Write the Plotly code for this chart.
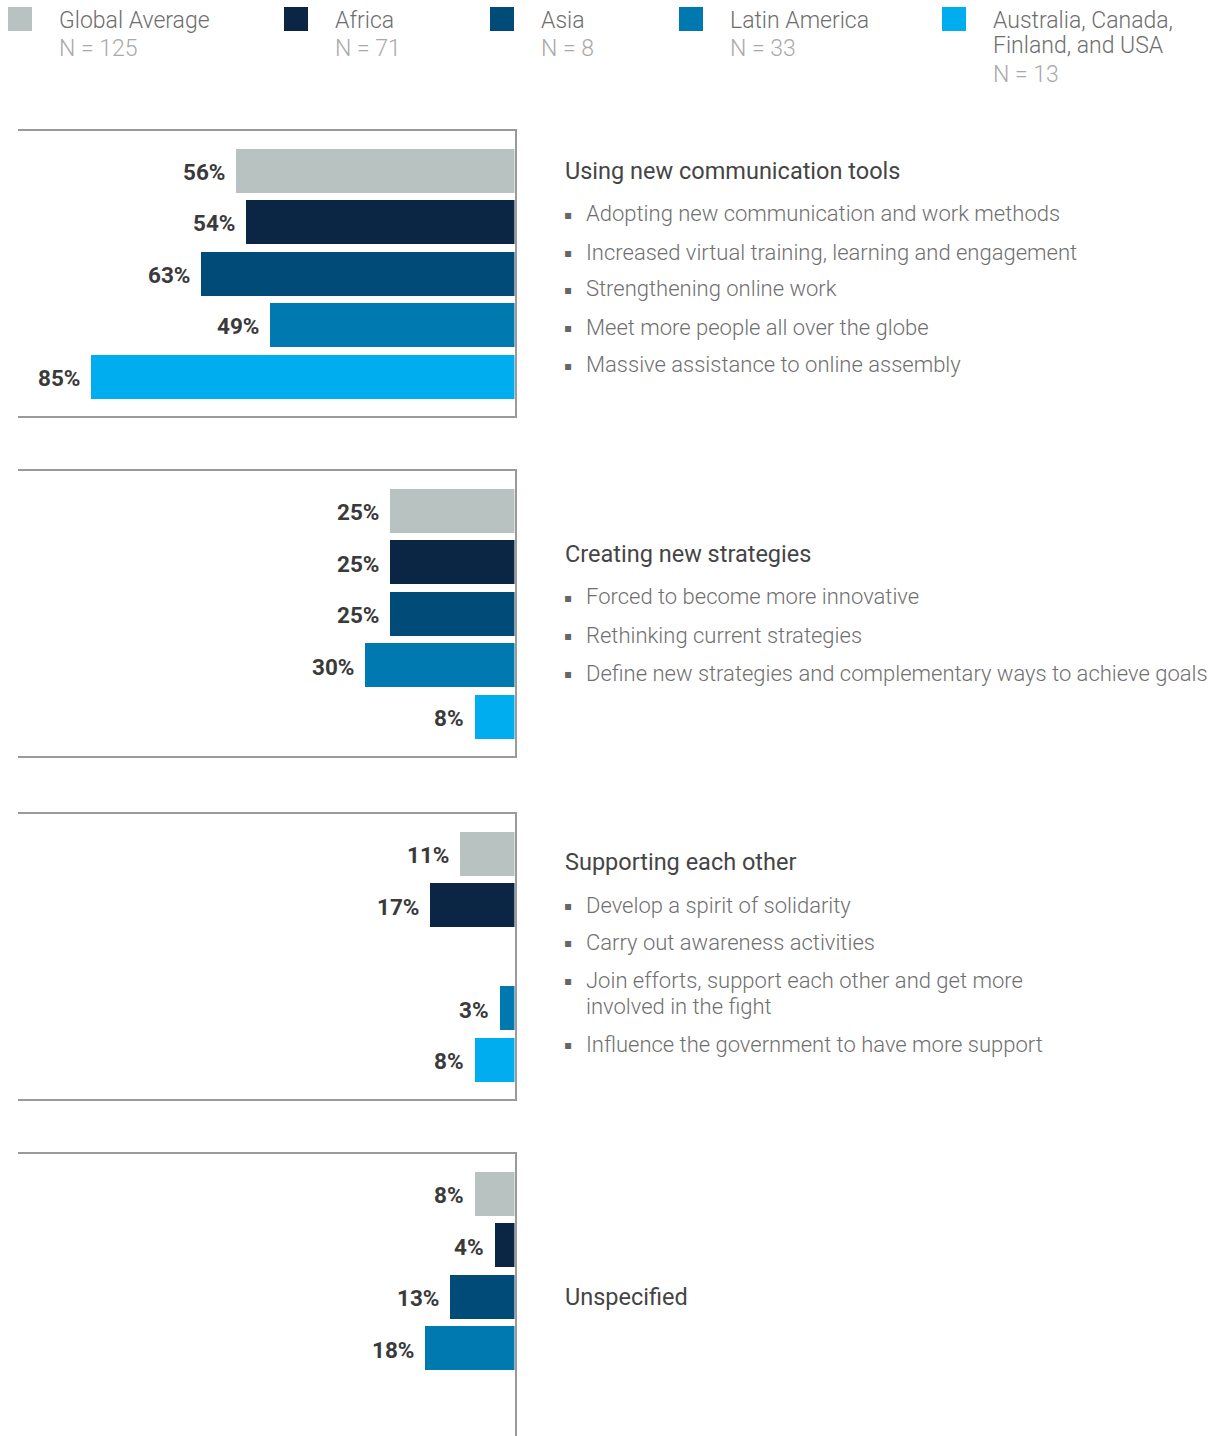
import plotly.graph_objects as go

# survey shares (%) per theme, one list per region
themes = ["Using new communication tools", "Creating new strategies",
          "Supporting each other", "Unspecified"]
global_avg = [56, 25, 11, 8]
africa = [54, 25, 17, 4]
asia = [63, 25, 0, 13]
latin_america = [49, 30, 3, 18]
aus_can_fin_usa = [85, 8, 8, 0]

regions = ["Global Average", "Africa", "Asia", "Latin America",
           "Australia, Canada,<br>Finland, and USA"]
region_n = [125, 71, 8, 33, 13]
colors = ["#b8c2c1", "#0b2545", "#004b77", "#0079b0", "#00adee"]

bullets = [
    ["Adopting new communication and work methods",
     "Increased virtual training, learning and engagement",
     "Strengthening online work",
     "Meet more people all over the globe",
     "Massive assistance to online assembly"],
    ["Forced to become more innovative",
     "Rethinking current strategies",
     "Define new strategies and complementary ways to achieve goals"],
    ["Develop a spirit of solidarity",
     "Carry out awareness activities",
     "Join efforts, support each other and get more<br>involved in the fight",
     "Influence the government to have more support"],
    [],
]

series = [global_avg, africa, asia, latin_america, aus_can_fin_usa]

W, H = 1225, 1436
FONT = "Roboto"
LINE = "#9a9a9a"

# panel frames in page pixels (top, bottom)
panels = [(130.5, 415.5), (470.5, 755.5), (813.5, 1098.5), (1153.5, 1436)]
title_y = [171, 554, 862, 1297]
item_y = [[214, 252, 289, 327, 365], [597, 635, 673], [905, 942, 980, 1044], []]
x_left, x_right = 18, 514.5
px_per_pct = 4.98
px_per_slot = 51.5
pad = 17.5 + 22 - px_per_slot / 2


def px(x):
    return x / W


def py(y):
    return 1 - y / H


fig = go.Figure()
annotations = []
shapes = []

for p in range(4):
    k = "" if p == 0 else str(p + 1)
    vals = [s[p] for s in series]
    xs = [v if v > 0 else None for v in vals]
    fig.add_trace(go.Bar(
        x=xs, y=list(range(5)), orientation="h",
        marker=dict(color=colors, line=dict(width=0)),
        width=44 / px_per_slot,
        xaxis="x" + k, yaxis="y" + k,
        showlegend=False, hoverinfo="skip",
    ))
    top, bot = panels[p]
    y_top = -0.5 - pad / px_per_slot
    y_bot = y_top + (bot - top) / px_per_slot
    fig.update_layout(**{
        "xaxis" + k: dict(
            domain=[px(x_left), px(x_right)],
            range=[(x_right - x_left) / px_per_pct, 0],
            side="top", showline=True, linecolor=LINE, linewidth=2,
            mirror=(p < 3), showticklabels=False, ticks="",
            showgrid=False, zeroline=False, anchor="y" + k,
        ),
        "yaxis" + k: dict(
            domain=[max(py(bot), 0), py(top)],
            range=[y_bot, y_top],
            side="right", showline=True, linecolor=LINE, linewidth=2,
            showticklabels=False, ticks="", showgrid=False,
            zeroline=False, anchor="x" + k,
        ),
    })
    for i, v in enumerate(vals):
        if v > 0:
            annotations.append(dict(
                x=v, y=i, xref="x" + k, yref="y" + k,
                text=f"{v}%", showarrow=False,
                xanchor="right", yanchor="middle", xshift=-9, yshift=-2,
                font=dict(family=FONT, size=22.5, color="#3a3a3a", weight=700),
            ))
    # theme title and bullet list
    annotations.append(dict(
        x=px(563), y=py(title_y[p]), xref="paper", yref="paper",
        text=themes[p], showarrow=False, xanchor="left", yanchor="middle",
        font=dict(family=FONT, size=23.5, color="#454545"),
    ))
    for t, yy in zip(bullets[p], item_y[p]):
        for j, line in enumerate(t.split("<br>")):
            annotations.append(dict(
                x=px(584), y=py(yy + 26 * j), xref="paper", yref="paper",
                text=line, showarrow=False, xanchor="left", yanchor="middle",
                font=dict(family=FONT, size=22, color="#707070", weight=300),
            ))
        annotations.append(dict(
            x=px(562), y=py(yy + 1), xref="paper", yref="paper",
            text="▪", showarrow=False, xanchor="left", yanchor="middle",
            font=dict(family="DejaVu Sans", size=12, color="#666666"),
        ))

# legend across the top
leg_x = [8, 284, 490, 679, 942]
for i, name in enumerate(regions):
    x0 = leg_x[i]
    shapes.append(dict(
        type="rect", xref="paper", yref="paper",
        x0=px(x0), x1=px(x0 + 24), y0=py(31), y1=py(7),
        fillcolor=colors[i], line=dict(width=0),
    ))
    lines = name.split("<br>")
    for j, line in enumerate(lines):
        annotations.append(dict(
            x=px(x0 + 49), y=py(20 + 26 * j), xref="paper", yref="paper",
            text=line, showarrow=False, xanchor="left", yanchor="middle",
            font=dict(family=FONT, size=23, color="#6e6e6e", weight=300),
        ))
    annotations.append(dict(
        x=px(x0 + 49), y=py(48 + 27 * (len(lines) - 1)),
        xref="paper", yref="paper",
        text=f"N = {region_n[i]}", showarrow=False, xanchor="left",
        yanchor="middle",
        font=dict(family=FONT, size=23, color="#a9a9a9", weight=300),
    ))

fig.update_layout(
    width=W, height=H,
    margin=dict(l=0, r=0, t=0, b=0),
    paper_bgcolor="white", plot_bgcolor="white",
    bargap=0, annotations=annotations, shapes=shapes,
)

# drop the default page margin so the figure sits at the window's corner
fig.write_html("out.html", config={"displayModeBar": False},
               post_script="document.body.style.margin='0';")
